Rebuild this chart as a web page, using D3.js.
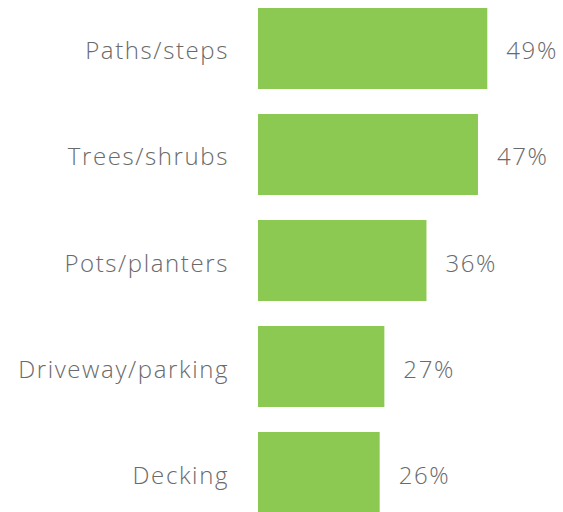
<!DOCTYPE html>
<html>
<head>
<meta charset="utf-8">
<script src="https://cdn.jsdelivr.net/npm/d3@7"></script>
<style>
  body { margin: 0; background: #fff; }
  text { font-family: "Open Sans", Lato, sans-serif; font-weight: 300; fill: #6a6a6a; }
</style>
</head>
<body>
<div id="chart"></div>
<script>
// data
var categories = ["Paths/steps", "Trees/shrubs", "Pots/planters", "Driveway/parking", "Decking"];
var values = [49, 47, 36, 27, 26];

var width = 563, height = 512;
var barColor = "#8bc953";

var svg = d3.select("#chart")
  .append("svg")
  .attr("width", width)
  .attr("height", height);

var xScale = d3.scaleLinear()
  .domain([0, 50])
  .range([258, 492]);

var yScale = d3.scaleBand()
  .domain(categories)
  .range([8, 513])
  .paddingInner(0.236)
  .paddingOuter(0);

var rows = categories.map(function (c, i) {
  return { name: c, value: values[i] };
});

// bars
svg.selectAll("rect.bar")
  .data(rows)
  .enter()
  .append("rect")
  .attr("class", "bar")
  .attr("x", xScale(0))
  .attr("y", function (d) { return yScale(d.name); })
  .attr("width", function (d) { return xScale(d.value) - xScale(0); })
  .attr("height", yScale.bandwidth())
  .attr("fill", barColor);

// category labels
svg.selectAll("text.cat")
  .data(rows)
  .enter()
  .append("text")
  .attr("class", "cat")
  .attr("x", 229)
  .attr("y", function (d) { return yScale(d.name) + yScale.bandwidth() / 2 + 11; })
  .attr("text-anchor", "end")
  .style("font-size", "24px")
  .style("letter-spacing", "1.6px")
  .text(function (d) { return d.name; });

// value labels
svg.selectAll("text.val")
  .data(rows)
  .enter()
  .append("text")
  .attr("class", "val")
  .attr("x", function (d) { return xScale(d.value) + 19; })
  .attr("y", function (d) { return yScale(d.name) + yScale.bandwidth() / 2 + 11; })
  .style("font-size", "24px")
  .style("letter-spacing", "1.6px")
  .text(function (d) { return d.value + "%"; });
</script>
</body>
</html>
